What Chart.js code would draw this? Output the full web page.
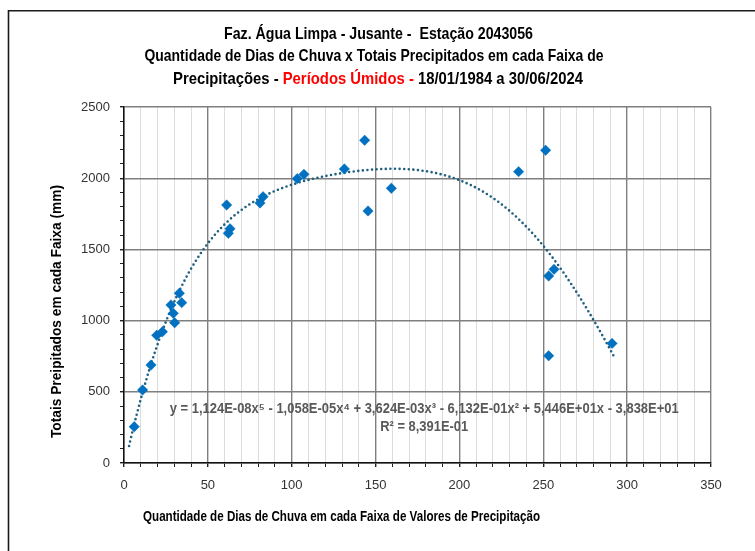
<!DOCTYPE html>
<html>
<head>
<meta charset="utf-8">
<script src="https://cdn.jsdelivr.net/npm/chart.js@4.4.1/dist/chart.umd.min.js"></script>
<style>
html,body{margin:0;padding:0;background:#fff;}
#wrap{position:relative;width:755px;height:551px;}
</style>
</head>
<body>
<div id="wrap"><canvas id="c" width="755" height="551"></canvas></div>
<script>
// ---- data ----
const diasChuva = [6.1, 11.1, 16.1, 19.5, 22.9, 28.0, 29.4, 30.2, 33.0, 34.4,
  61.2, 62.2, 63.2, 81.1, 82.9, 103.3, 107.3, 131.4, 143.5, 145.5, 159.4,
  235.3, 251.4, 253.2, 256.4, 253.2, 291.0];
const totaisPrecip = [255, 513, 688, 897, 922, 1110, 1051, 985, 1192, 1126,
  1812, 1613, 1645, 1826, 1870, 1997, 2027, 2065, 2266, 1770, 1929,
  2046, 2196, 1313, 1360, 753, 840];
// polynomial trendline coefficients as printed on the chart (x^5 ... x^0)
const trendCoefs = [1.124e-8, -1.058e-5, 3.624e-3, -6.132e-1, 5.446e1, -3.838e1];
const trendRange = [3, 293.5];
const xTickLabels = [0, 50, 100, 150, 200, 250, 300, 350];
const yTickLabels = [0, 500, 1000, 1500, 2000, 2500];
const titleLines = ["Faz. Água Limpa - Jusante -  Estação 2043056",
  "Quantidade de Dias de Chuva x Totais Precipitados em cada Faixa de"];
const titleLine3 = [["Precipitações - ", "#000000"], ["Períodos Úmidos - ", "#FF0000"], ["18/01/1984 a 30/06/2024", "#000000"]];
const xTitle = "Quantidade de Dias de Chuva em cada Faixa de Valores de Precipitação";
const yTitle = "Totais Preipitados em cada Faixa (mm)";
const eqText = "y = 1,124E-08x⁵ - 1,058E-05x⁴ + 3,624E-03x³ - 6,132E-01x² + 5,446E+01x - 3,838E+01";
const r2Text = "R² = 8,391E-01";

const SANS = '"Liberation Sans", Arial, sans-serif';

const scatterData = diasChuva.map((x, i) => ({x: x, y: totaisPrecip[i]}));
function poly(x) {
  let v = 0;
  for (let i = 0; i < trendCoefs.length; i++) v = v * x + trendCoefs[i];
  return v;
}
const trendData = [];
for (let x = trendRange[0]; x <= trendRange[1]; x += 1) trendData.push({x: x, y: poly(x)});

// draw text horizontally condensed (narrow font look) to a given width, centred
function drawNarrow(ctx, parts, cx, cy, targetW, font, rot) {
  ctx.save();
  ctx.font = font;
  ctx.textBaseline = 'middle';
  ctx.textAlign = 'left';
  let total = 0;
  parts.forEach(p => total += ctx.measureText(p[0]).width);
  const k = targetW / total;
  ctx.translate(cx, cy);
  if (rot) ctx.rotate(rot);
  ctx.scale(k, 1);
  let x = -total / 2;
  parts.forEach(p => {
    ctx.fillStyle = p[1];
    ctx.fillText(p[0], x, 0);
    x += ctx.measureText(p[0]).width;
  });
  ctx.restore();
}

const decor = {
  id: 'decor',
  beforeDraw(chart) {
    const ctx = chart.ctx;
    ctx.save();
    ctx.fillStyle = '#fff';
    ctx.fillRect(0, 0, chart.width, chart.height);
    ctx.strokeStyle = '#1a1a1a';
    ctx.lineWidth = 1.6;
    ctx.beginPath();
    ctx.moveTo(8.5, 552);
    ctx.lineTo(8.5, 10.8);
    ctx.lineTo(756, 10.8);
    ctx.stroke();
    ctx.restore();
    const tf = 'bold 17px ' + SANS;
    drawNarrow(ctx, [[titleLines[0], '#000']], 378.5, 34.5, 309, tf);
    drawNarrow(ctx, [[titleLines[1], '#000']], 374, 56.5, 459, tf);
    drawNarrow(ctx, titleLine3, 378, 79, 410, tf);
    const af = 'bold 15px ' + SANS;
    drawNarrow(ctx, [[xTitle, '#000']], 341.5, 517, 397, af);
    drawNarrow(ctx, [[yTitle, '#000']], 57, 311.5, 253, af, -Math.PI / 2);
  },
  afterDatasetsDraw(chart) {
    const ctx = chart.ctx;
    const xs = chart.scales.x, ys = chart.scales.y;
    const ef = 'bold 14px ' + SANS;
    drawNarrow(ctx, [[eqText, '#595959']], xs.getPixelForValue(179), ys.getPixelForValue(378), 509, ef);
    const r2x = xs.getPixelForValue(179), r2y = ys.getPixelForValue(252);
    drawNarrow(ctx, [[r2Text, '#595959']], r2x, r2y, 88, ef);
  }
};

new Chart(document.getElementById('c'), {
  type: 'scatter',
  data: {
    datasets: [
      {
        label: 'Tendência',
        data: trendData,
        showLine: true,
        borderColor: '#1f5f7f',
        borderWidth: 2.6,
        borderDash: [0, 4.6],
        borderCapStyle: 'round',
        pointRadius: 0,
        fill: false,
        tension: 0,
        order: 2
      },
      {
        label: 'Dados',
        data: scatterData,
        pointStyle: 'rectRot',
        pointRadius: 5.2,
        pointHoverRadius: 5.2,
        backgroundColor: '#0070C0',
        borderColor: '#0070C0',
        borderWidth: 0.5,
        order: 1
      }
    ]
  },
  options: {
    responsive: false,
    animation: false,
    devicePixelRatio: 1,
    layout: {padding: {left: 0, top: 107, right: 44, bottom: 0}},
    plugins: {legend: {display: false}, tooltip: {enabled: false}, title: {display: false}},
    scales: {
      x: {
        type: 'linear',
        min: 0, max: 350,
        afterFit(s) { s.height = 88; },
        ticks: {
          stepSize: 10,
          autoSkip: false,
          maxRotation: 0,
          padding: 11,
          color: '#333',
          font: {family: SANS, size: 13},
          callback: v => xTickLabels.includes(v) ? String(v) : ''
        },
        grid: {
          color: c => (c.tick && c.tick.value % 50 === 0) ? '#7f7f7f' : '#dcdcdc',
          lineWidth: c => (c.tick && c.tick.value % 50 === 0) ? 1.4 : 1,
          tickColor: '#222',
          tickLength: 4
        },
        border: {color: '#111', width: 1.5},
        title: {display: false}
      },
      y: {
        type: 'linear',
        min: 0, max: 2500,
        afterFit(s) { s.width = 124; },
        ticks: {
          stepSize: 100,
          autoSkip: false,
          padding: 10,
          color: '#333',
          font: {family: SANS, size: 13},
          callback: v => yTickLabels.includes(v) ? String(v) : ''
        },
        grid: {
          color: c => (c.tick && c.tick.value % 500 === 0) ? '#7f7f7f' : 'rgba(0,0,0,0)',
          lineWidth: c => (c.tick && c.tick.value % 500 === 0) ? 1.4 : 1,
          tickColor: '#222',
          tickLength: 4
        },
        border: {color: '#111', width: 1.5},
        title: {display: false}
      }
    }
  },
  plugins: [decor]
});
</script>
</body>
</html>
